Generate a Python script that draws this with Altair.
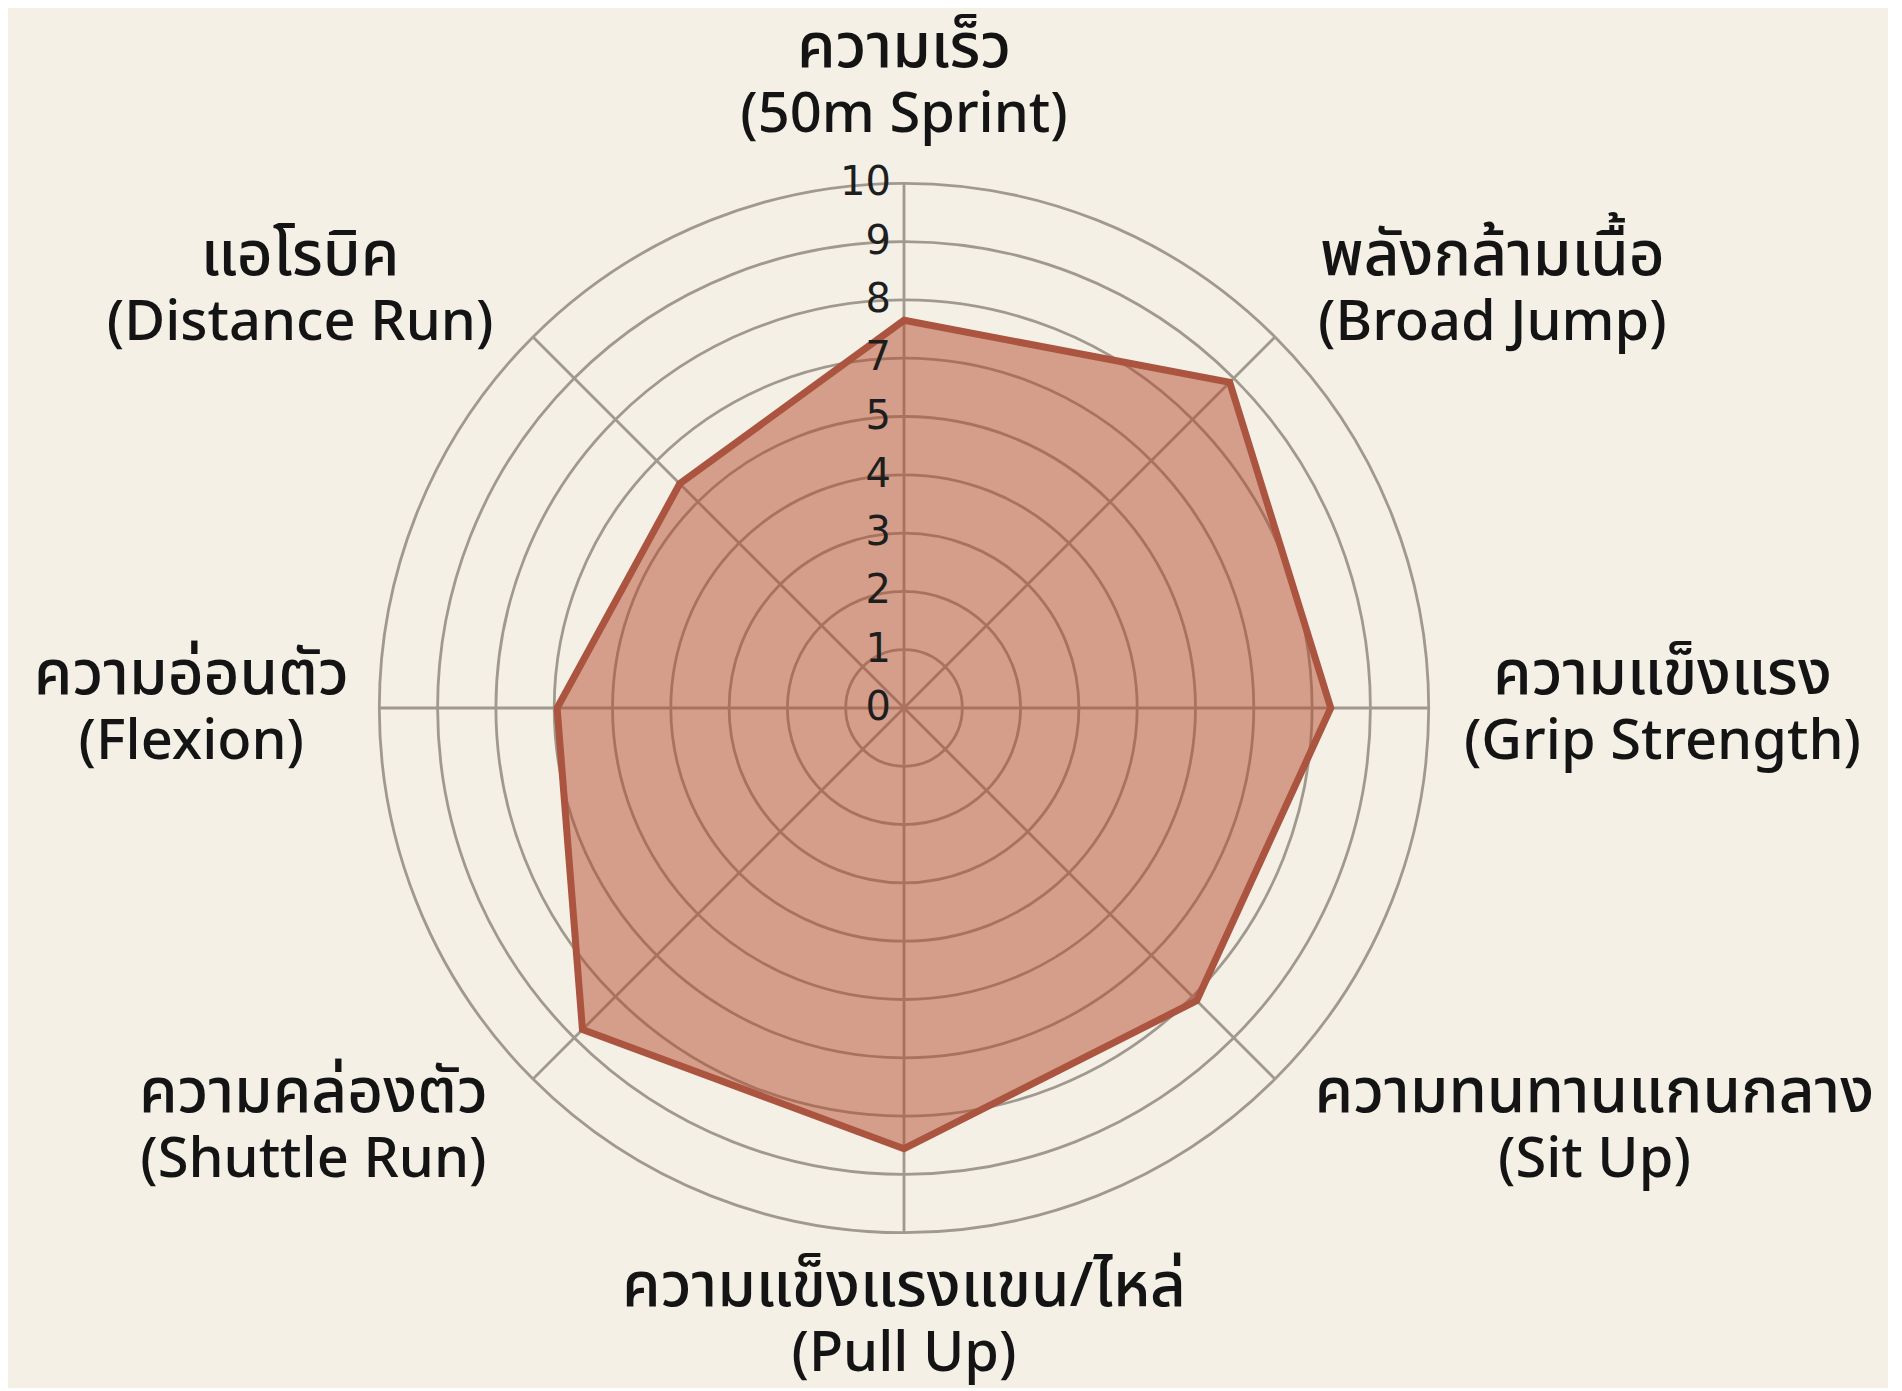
import math
import altair as alt
import pandas as pd

# ---------------- data ----------------
categories_th = ["ความเร็ว", "พลังกล้ามเนื้อ", "ความแข็งแรง", "ความทนทานแกนกลาง",
                 "ความแข็งแรงแขน/ไหล่", "ความคล่องตัว", "ความอ่อนตัว", "แอโรบิค"]
categories_en = ["(50m Sprint)", "(Broad Jump)", "(Grip Strength)", "(Sit Up)",
                 "(Pull Up)", "(Shuttle Run)", "(Flexion)", "(Distance Run)"]
# scores measured in ring units (rings are equally spaced, 9 rings)
scores = [6.65, 7.9, 7.32, 7.1, 7.56, 7.8, 5.95, 5.44]
ring_levels = [1, 2, 3, 4, 5, 6, 7, 8, 9]
tick_positions = [0, 1, 2, 3, 4, 5, 6, 7, 8, 9]
tick_labels = ["0", "1", "2", "3", "4", "5", "7", "8", "9", "10"]

# ---------------- layout / style ----------------
W, H = 1880, 1380
CX, CY = 896, 700          # centre of the radar inside the plot area
K = 58.3                   # pixels per ring unit
RMAX = 9
BG = "#f4f0e6"
GRID = "#a0998e"
FILL = "#b44c2e"
STROKE = "#ab5440"
TEXT = "#141414"
FONT = "Noto Sans, Noto Sans Thai, sans-serif"
FS_EN = 56
FS_TH = 62
LH = 67 / K

xs = alt.Scale(domain=[-CX / K, (W - CX) / K], nice=False, zero=False)
ys = alt.Scale(domain=[-(H - CY) / K, CY / K], nice=False, zero=False)

cat_df = pd.DataFrame({"idx": list(range(len(categories_th))), "th": categories_th,
                       "en": categories_en, "score": scores})
ring_df = pd.DataFrame({"ring": ring_levels})
tick_df = pd.DataFrame({"pos": tick_positions, "label": tick_labels})

N = len(categories_th)

rings = alt.Chart(ring_df).transform_calculate(zero="0").mark_arc(
    filled=False, stroke=GRID, strokeWidth=2.8, theta=0, theta2=2 * math.pi
).encode(
    x=alt.X("zero:Q", scale=xs, axis=None),
    y=alt.Y("zero:Q", scale=ys, axis=None),
    radius=alt.Radius("ring:Q", stack=None,
                      scale=alt.Scale(type="linear", domain=[0, RMAX], range=[0, RMAX * K], zero=True)),
)

spokes = alt.Chart(cat_df).transform_calculate(
    theta=f"datum.idx * 2 * PI / {N}",
    zero="0",
    ex=f"{RMAX} * sin(datum.theta)",
    ey=f"{RMAX} * cos(datum.theta)",
).mark_rule(stroke=GRID, strokeWidth=2.8).encode(
    x=alt.X("zero:Q", scale=xs, axis=None),
    y=alt.Y("zero:Q", scale=ys, axis=None),
    x2="ex:Q",
    y2="ey:Q",
)

poly = alt.Chart(cat_df).transform_calculate(
    theta=f"datum.idx * 2 * PI / {N}",
    px="datum.score * sin(datum.theta)",
    py="datum.score * cos(datum.theta)",
).mark_line(
    interpolate="linear-closed", fill=FILL, fillOpacity=0.5, stroke=STROKE,
    strokeWidth=7, strokeJoin="miter"
).encode(
    x=alt.X("px:Q", scale=xs, axis=None),
    y=alt.Y("py:Q", scale=ys, axis=None),
    order="idx:Q",
)

ticks = alt.Chart(tick_df).transform_calculate(zero="0").mark_text(
    align="right", baseline="middle", dx=-13, font="DejaVu Sans", fontSize=40, color="#1e1e1e"
).encode(
    x=alt.X("zero:Q", scale=xs, axis=None),
    y=alt.Y("pos:Q", scale=ys, axis=None),
    text="label:N",
)

comb = "[\u0E31\u0E34-\u0E3A\u0E47-\u0E4E]"
lab_base = alt.Chart(cat_df).transform_calculate(
    theta=f"datum.idx * 2 * PI / {N}",
    s="sin(datum.theta)",
    c="cos(datum.theta)",
    R="9.6 + 0.55 * abs(sin(2 * datum.theta)) - (datum.c < -0.99 ? 0.25 : 0)",
    side="abs(datum.s) < 0.01 ? 0 : (datum.s > 0 ? 1 : -1)",
    vert="abs(datum.c) > 0.99 ? (datum.c > 0 ? 1 : -1) : 0",
    nth=f"length(replace(datum.th, regexp('{comb}', 'g'), ''))",
    hw=f"max(datum.nth * 34 / {K}, length(datum.en) * 26.5 / {K}) / 2",
    cx="datum.R * datum.s + datum.side * datum.hw",
    cy=f"datum.R * datum.c + datum.vert * {LH}",
    y1=f"datum.cy + {LH / 2}",
    y2=f"datum.cy - {LH / 2}",
)

lab_th = lab_base.mark_text(align="center", baseline="middle", font=FONT, fontSize=FS_TH,
                            fontWeight=500, color=TEXT).encode(
    x=alt.X("cx:Q", scale=xs, axis=None),
    y=alt.Y("y1:Q", scale=ys, axis=None),
    text="th:N",
)
lab_en = lab_base.mark_text(align="center", baseline="middle", font=FONT, fontSize=FS_EN,
                            fontWeight=500, color=TEXT).encode(
    x=alt.X("cx:Q", scale=xs, axis=None),
    y=alt.Y("y2:Q", scale=ys, axis=None),
    text="en:N",
)

chart = alt.layer(rings, spokes, poly, ticks, lab_th, lab_en).properties(
    width=W, height=H, background=BG, padding=0,
    autosize=alt.AutoSizeParams(type="none"),
).configure_view(stroke=None)

chart.save("out.html", embed_options={"renderer": "svg", "actions": False})
